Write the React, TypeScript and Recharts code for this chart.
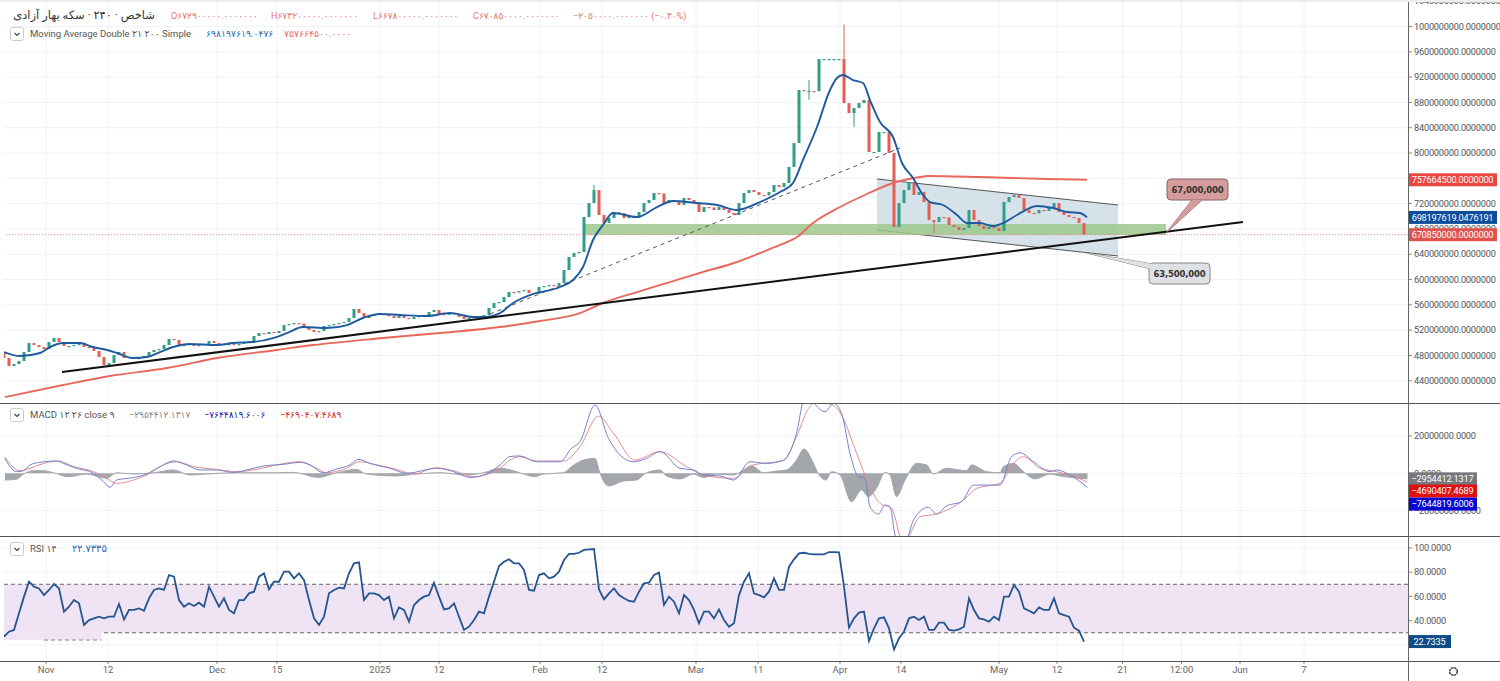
import React from 'react';
import {
  Area,
  Bar,
  CartesianGrid,
  ComposedChart,
  Line,
  ReferenceArea,
  ReferenceDot,
  ReferenceLine,
  XAxis,
  YAxis,
} from 'recharts';

const M = 1000000;

// closes per 240 min bar, millions
const closes = [
  475.9, 463.2, 466.4, 471.2, 485.4, 499.6, 496.4, 493.3, 490.1, 501.2,
  507.5, 501.2, 494.9, 494.9, 496.4, 498, 493.3, 491.7, 487, 477.5,
  464.8, 468, 480.6, 485.4, 475.9, 477.5, 475.9, 475.9, 479, 485.4,
  488.6, 490.1, 496.4, 506, 504.4, 494.9, 496.4, 498, 494.9, 496.4,
  498, 502.8, 499.6, 498, 496.4, 498, 496.4, 498, 501.2, 502.8,
  510.7, 515.4, 513.8, 517, 515.4, 518.6, 528, 529.7, 531.2, 530.4,
  523.3, 520.2, 517, 518.6, 526.5, 528, 529.7, 531.2, 532.8, 539.2,
  553.4, 547, 539.2, 542.3, 545.5, 546.4, 543.9, 542.3, 539.2, 542.3,
  539.2, 537.6, 540.7, 542.3, 543.2, 548.6, 551.8, 545.5, 543.9, 547,
  545.5, 540.7, 537.6, 539.2, 540.7, 542.3, 543.9, 555, 562.9, 564.4,
  572.3, 580.2, 579.4, 581.8, 583.4, 578.7, 577.9, 588.2, 589.7, 591.3,
  590.6, 594.5, 615, 635.6, 642, 643.5, 698.8, 720.9, 741.5, 702,
  689.3, 697.2, 706.7, 705.2, 697.2, 698.8, 698, 706.7, 720.9, 725.7,
  736.8, 736, 720.9, 725.7, 722.5, 717.8, 728.9, 725.7, 720.9, 706.7,
  714.6, 714, 709.9, 714.6, 709.9, 705.2, 702, 720.9, 736.8, 741.5,
  738.3, 733.6, 733, 738.3, 749.4, 746.2, 752.6, 777.9, 815.8, 899.6,
  898, 898, 897.6, 948.6, 948.6, 948.6, 948.6, 948.6, 879, 863.2,
  871.2, 879, 883.8, 801.6, 801.6, 833.2, 833.2, 800, 683, 720.9,
  741.5, 754, 733.6, 738.3, 722.5, 694, 690.9, 698.8, 698.2, 686.2,
  683, 678.3, 681.4, 709.9, 694, 684.6, 679.9, 683, 681.4, 676.7,
  722.5, 730.4, 733.6, 728.9, 709.9, 705.2, 704.6, 709.9, 708.3, 713,
  720.9, 706.7, 702, 698.8, 697.2, 689.3, 670.85,
];
const firstOpen = 485.4;
const wickBars = [118, 161, 168, 170, 186];
const wickLows = [720.9, 884, 879, 841, 673.5];
const wickHighs = [749.4, 915, 1003, 871.2, 694];

const ma21Bars = [
  0, 3.2, 7.2, 9.2, 11.8, 15.2, 17.8, 20.6, 22.6, 25.8, 28.6, 31.2, 33.8, 37.2, 42.6, 45.8, 49.8, 53.8, 56.6, 59.8,
  64.6, 68.6, 71.8, 75.2, 79.2, 84.6, 89.2, 93.8, 95.8, 99.2, 101.8, 105.2, 111.2, 113.8, 115.8, 117.8, 119.8, 121.8,
  126.6, 130.6, 133.8, 138.6, 142.6, 146.6, 151.2, 155.2, 157.8, 159.8, 162.6, 165.2, 166.6, 167.8, 169.8, 171.8,
  173.2, 175.2, 177.8, 179.6, 181.8, 183.8, 185.2, 187.8, 190.6, 192.6, 195.2, 197.8, 199.8, 202.6, 206.6, 209.8,
  212.6, 215.2, 216.6,
];
const ma21Values = [
  485.4, 479, 483.8, 493.3, 499.6, 499.6, 493.3, 488.6, 483.8, 475.9, 477.5, 485.4, 493.3, 498, 496.4, 499.6, 501.2, 507.5, 515.4, 524.9,
  523.3, 528, 539.2, 545.5, 543.9, 542.3, 547, 540.7, 540.7, 547, 562.9, 575.5, 588.2, 599.2, 619.8, 662.5, 686.2, 705.2,
  698.8, 714.6, 724.1, 720.9, 717.8, 709.9, 722.5, 738.3, 752.6, 789, 841.1, 899.6, 918.6, 923.3, 915.4, 910.7,
  883.8, 849, 825.3, 784.2, 760.5, 733.6, 722.5, 717.8, 702, 689.3, 689.3, 684.6, 689.3, 702, 716.2, 713,
  706.7, 705.2, 698.2,
];

const ma200Bars = [
  0.2, 11.8, 21.2, 32.6, 42.6, 54.6, 61.8, 75.8, 87.2, 99.2, 107.2, 115.2, 119.8, 126.6, 133.2, 139.8, 146.6, 151.2,
  155.2, 158.6, 161.8, 167.2, 172.6, 177.8, 183.2, 184.8, 195.2, 208.6, 216.6,
];
const ma200Values = [
  414.2, 433.2, 447.4, 460.1, 475.9, 488.6, 496.4, 507.5, 515.4, 524.9, 534.4, 547, 562.9, 580.2, 596, 611.9, 627.7, 641.9,
  654.6, 667.2, 689.3, 714.6, 735.2, 752.6, 762, 763.6, 762, 758.9, 757.66,
];

const macdBars = [
  0.2, 1.2, 2.5, 3.9, 5.2, 7.2, 10.5, 11.9, 14.5, 17.9, 19.9, 21.2, 22.5, 25.9, 28.5, 31.2, 33.9, 36.5, 39.2, 42.5,
  45.9, 49.9, 51.9, 55.9, 59.2, 61.2, 63.9, 66.5, 69.2, 70.9, 73.2, 77.2, 80.5, 86.5, 89.9, 93.2, 96.5, 99.2, 101.2, 103.2,
  106.5, 111.2, 113.5, 115.2, 118.2, 120.9, 125.9, 128.5, 131.2, 135.2, 137.9, 139.9, 143.2, 145.9, 149.2, 152.5, 155.9, 158.5, 160.2, 164.2,
  165.9, 167.5, 169.2, 170.9, 172.2, 173.2, 174.9, 176.2, 177.2, 178.2, 179.5, 180.9, 181.9, 184.9, 186.5, 188.5, 191.5, 193.9, 199.2, 201.5,
  203.2, 205.9, 209.2, 210.5, 213.2, 216.7,
];
const macdValues = [
  8, 3.6, 0.9, 1.4, 4.5, 5.9, 6.6, 5.3, 2.7, 0, -4.5, -7.5, -3.6, -2.3, -0.4, 3.6, 6.6, 4.5, 1.8, 1.8,
  0.5, 2.7, 3.9, 4.8, 5.9, 4.5, 0.3, 2.3, 4.5, 7.5, 5.3, 2.7, 0, 2.7, 0.9, -2.2, -0.4, 4.5, 9, 9.3,
  6.2, 6.2, 13.4, 17, 36.6, 18.7, 6.2, 8, 11.6, 2.7, 1.8, -0.9, -1.4, -3.6, 6.2, 5.3, 7.1, 21.4, 41, 33,
  37.5, 32.2, 10.7, -1.8, -2.7, -17.9, -21.8, -17, -17.9, -33.1, -41.1, -33.1, -25, -18.2, -21.8, -17.5, -15.2, -6.3, -6.3, 8.9,
  11, 6.2, 0.9, 1.8, -0.9, -7.64,
];

const signalBars = [
  0.2, 3.2, 5.2, 7.9, 10.9, 13.9, 17.9, 20.5, 22.5, 25.9, 29.2, 31.9, 34.5, 37.9, 42.5, 46.5, 50.5, 54.5, 59.2, 62.5,
  64.5, 68.5, 71.2, 74.5, 78.5, 81.9, 86.5, 90.5, 93.9, 97.2, 99.2, 101.2, 103.2, 106.5, 111.9, 115.2, 118.9, 121.9, 126.2, 131.2,
  136.5, 139.9, 145.9, 149.9, 155.9, 158.5, 160.9, 162.5, 165.2, 167.5, 169.9, 172.5, 175.2, 177.5, 179.9, 180.9, 183.2, 186.5, 191.9, 194.5,
  199.2, 201.9, 203.9, 207.2, 209.5, 212.5, 216.7,
];
const signalValues = [
  8.6, 1.4, 2.7, 5.3, 6.6, 3.6, 0.9, -2.7, -5.4, -3.6, 0, 4.5, 6.2, 3.6, 2.1, 0.9, 2.1, 4.5, 6.2, 2.7,
  0.3, 2.7, 6.2, 4.5, 2.1, -0.4, 3, 0.9, -1.8, 0, 2.7, 7.1, 8.9, 6.6, 6.6, 14.3, 30.7, 21.4, 7.1, 11.6,
  3.6, -0.9, -2.7, 4.5, 6.8, 19.6, 34.8, 37.9, 37.2, 31.3, 15.2, -2.7, -16.1, -18.8, -37.5, -34, -23.2, -21.8, -14.3, -8.1,
  -5.4, 5.4, 8.9, 2.7, 1.4, -0.4, -4.69,
];

const histBars = [
  0.2, 2.5, 3.9, 5.9, 7.9, 9.9, 12.9, 16.5, 20.5, 22.5, 25.9, 29.9, 33.9, 37.2, 40.5, 45.9, 54.5, 57.9, 62.9, 66.5,
  70.5, 72.5, 78.5, 82.5, 87.2, 92.5, 95.9, 99.2, 101.9, 103.9, 106.2, 107.9, 111.9, 113.5, 115.9, 118.2, 119.2, 120.9, 123.9, 126.5,
  128.5, 131.2, 132.5, 135.2, 137.9, 139.9, 142.5, 145.9, 147.9, 149.5, 151.9, 154.5, 156.5, 158.5, 160, 161.9, 162.9, 164.4, 165.5, 167.2,
  169.5, 171.5, 172.9, 174.5, 176.2, 177.2, 178.5, 180.2, 182.5, 184.5, 185.9, 188.5, 192.5, 193.5, 196.5, 199.2, 199.9, 201.9, 203.9, 206.2,
  209.2, 211.2, 216.7,
];
const histValues = [
  -3.6, -3.2, -0.4, 1.4, 1.4, 0.3, -1.8, -0.4, -2.7, 0.3, -0.4, 0.3, 1.8, -0.9, -0.4, 0.3, 0.3, 0.5, -2.2, 0.3,
  2.1, -0.4, -1.4, -0.4, 0.3, -0.9, 0.3, 2.7, 1.4, -0.4, -1.8, -0.4, 0.3, 3.6, 7.1, 8, 0, -6.8, -4.1, -3.6,
  0.3, 1.8, -1.4, -3, -0.4, -2.3, -0.4, -0.9, 1.8, 4.1, 0.3, 1.2, 1.8, 7.1, 13, 5.3, -0.4, -3.6, 0.9, -0.9,
  -15.2, -8.9, -12.5, -8, 0.5, -0.9, -12.5, -3.6, 5.3, 4.5, -0.4, 2.7, 1.4, 4.5, 0.9, 0.3, 3.6, 5.3, 0.9, -3,
  -0.4, -1.4, -2.95,
];

const rsiValues = [
  26.8, 30.9, 32.3, 46, 59.8, 72.1, 68, 66.6, 61.1, 65.3,
  70.2, 66.6, 47.4, 51.5, 57, 54.3, 36.4, 40.5, 41.9, 43.3,
  41.9, 43.3, 43.3, 53.7, 41, 48.8, 48.8, 50.1, 48.2, 58.4,
  65.3, 66.6, 65.3, 77.6, 76.3, 57, 51.5, 54.3, 52.1, 54.8,
  51.5, 68, 59.8, 51.5, 58.4, 48.8, 46, 57, 57, 62.5,
  63.9, 76.3, 79, 65.8, 72.1, 72.1, 80.4, 80.4, 74.9, 79,
  73.5, 57, 41.9, 36.4, 43.3, 62.5, 65.3, 67.2, 66.6, 79,
  87.3, 88.1, 57, 62.5, 62.5, 61.1, 57, 59.8, 41.9, 50.9,
  48.8, 39.1, 52.9, 57, 59.8, 61.1, 71.3, 59.8, 49.3, 50.1,
  54.3, 43.3, 32.3, 35, 40.5, 47.4, 46, 59.8, 72.1, 85,
  88.6, 90.6, 87.3, 87.3, 81.8, 65.3, 64.7, 77.6, 79, 74.9,
  76.3, 80.4, 90, 95, 95, 96, 98.3, 98.8, 99.1, 65.8,
  57.6, 62.5, 66.6, 61.1, 58.4, 56.2, 55.6, 63.9, 70.8, 71.3,
  77.6, 79.6, 52.9, 59.8, 55.6, 46, 61.1, 57, 48.8, 37.8,
  47.4, 47.4, 41.9, 49.3, 40.5, 35, 37.8, 61.1, 72.1, 79,
  62.5, 61.1, 59.2, 63.9, 74.9, 65.3, 65.3, 84.5, 90.6, 95.5,
  96, 95, 94.7, 94.7, 94.7, 96.6, 96.6, 96.3, 68, 34.2,
  41.9, 46.6, 47.4, 23.2, 33.6, 41.9, 42.7, 33.6, 16.3, 25.4,
  30.9, 41.9, 43.3, 40.5, 43.3, 32.3, 32.3, 38.3, 38.3, 32.3,
  31.7, 32.8, 35, 58.4, 48.8, 41.9, 41, 39.1, 43.3, 40.5,
  59.8, 59.8, 69.4, 63.9, 50.1, 48.2, 46, 50.9, 48.8, 48.8,
  58.4, 46, 44.6, 43.3, 34.2, 31.7, 22.73,
];

const timeTicks = [8.4, 20.8, 42.6, 54.6, 75.2, 87, 107.2, 119.6, 138.4, 150.8, 167.2, 179.4, 199, 210.6, 223.7, 235.5, 247.2, 260];
const timeLabels = ['Nov', '12', 'Dec', '15', '2025', '12', 'Feb', '12', 'Mar', '11', 'Apr', '14', 'May', '12', '21', '12:00', 'Jun', '7'];
const priceGrid = [440, 480, 520, 560, 600, 640, 680, 720, 760, 800, 840, 880, 920, 960, 1000, 1040].map((v) => v * M);
// 760 sits fully behind the last MA200 value box, so it has no label
const priceTicks = priceGrid.filter((v) => v !== 760 * M);
const macdTicks = [-20 * M, 0, 20 * M];
const rsiTicks = [20, 40, 60, 80, 100];

const priceBoxValues = [757664500, 698197619.0476191, 670850000];
const priceBoxTexts = ['757664500.0000000', '698197619.0476191', '670850000.0000000'];
const macdBoxValues = [-2954412.1317, -4690407.4689, -7644819.6006];
const macdBoxTexts = ['−2954412.1317', '−4690407.4689', '−7644819.6006'];
const rsiBoxValues = [22.7335];
const rsiBoxTexts = ['22.7335'];

const BAR_DOMAIN: [number, number] = [0, 280.8];
const PRICE_DOMAIN: [number, number] = [404.8 * M, 1041.9 * M];
const MACD_DOMAIN: [number, number] = [-33.6 * M, 37.15 * M];
const RSI_DOMAIN: [number, number] = [6.7, 109];

const UP = '#2f9d88';
const DOWN = '#e35f55';
const GRID = '#f0f2f7';
const BAND = '#e9d9ef';
const FONT = "Roboto, 'DejaVu Sans', sans-serif";

const priceRows = closes.map((c, i) => {
  const open = i === 0 ? firstOpen : closes[i - 1];
  const w = wickBars.indexOf(i);
  return {
    bar: i,
    body: [Math.min(open, c) * M, Math.max(open, c) * M],
    wick: w >= 0 ? [wickLows[w] * M, wickHighs[w] * M] : undefined,
    up: c >= open,
  };
});
const rsiRows = rsiValues.map((rsi, i) => ({ bar: i, rsi }));
const zip = (bars: number[], vals: number[], k = M) => bars.map((bar, i) => ({ bar, value: vals[i] * k }));
const channelRows = [
  { bar: 174.6, range: [678.3 * M, 758.9 * M] },
  { bar: 222.8, range: [637.2 * M, 717.8 * M] },
];

const tickStyle = { fontSize: 9.2, fill: '#555', fontFamily: FONT, letterSpacing: -0.2 };

// candle parts keep their own width, recharts splits the band between the two bars otherwise
const candlePart = (w: number) => (p: any) => {
  const row = p.payload;
  if (w === 1 && !row.wick) return null;
  return (
    <rect
      x={p.x + p.width / 2 - w / 2}
      y={p.y}
      width={w}
      height={Math.max(p.height, 1.2)}
      fill={row.up ? UP : DOWN}
    />
  );
};

const Callout = ({ cx, cy, text, fill, stroke, bx, by, tail }: any) => (
  <g transform={`translate(${cx},${cy})`}>
    <path d={tail} fill={fill} stroke={stroke} strokeWidth={1} />
    <rect x={bx} y={by} width={61} height={21} rx={4} fill={fill} stroke={stroke} strokeWidth={1} />
    <path d={tail} fill={fill} stroke="none" />
    <text x={bx + 30.5} y={by + 13.5} textAnchor="middle" fill="#333" style={{ fontSize: 8.5, fontWeight: 700, fontFamily: "'DejaVu Sans', sans-serif", letterSpacing: -0.2 }}>
      {text}
    </text>
  </g>
);

// value boxes go in a chart of their own on top, they have to cover the axis ticks
const ScaleBoxes = ({ height, bottom = 0, domain, values, texts, colors, nudges, boxWidth }: any) => (
  <ComposedChart width={1500} height={height} margin={{ top: 0, right: 92, left: 4, bottom }}>
    <XAxis dataKey="bar" type="number" domain={BAR_DOMAIN} hide allowDataOverflow />
    <YAxis domain={domain} hide allowDataOverflow />
    {values.map((v: number, i: number) => (
      <ReferenceDot
        key={texts[i]}
        x={BAR_DOMAIN[1]}
        y={v}
        ifOverflow="visible"
        shape={(p: any) => (
          <g transform={`translate(1408,${p.cy + (nudges ? nudges[i] : 0)})`}>
            <rect x={0} y={-6.5} width={boxWidth} height={13} fill={colors[i]} />
            <text x={boxWidth / 2} y={3.2} textAnchor="middle" fill="#fff" style={{ fontSize: 9.2, fontFamily: FONT, letterSpacing: -0.2 }}>
              {texts[i]}
            </text>
          </g>
        )}
      />
    ))}
  </ComposedChart>
);

const Chevron = ({ top }: { top: number }) => (
  <svg style={{ position: 'absolute', left: 10, top }} width={14} height={14}>
    <rect x={0.5} y={0.5} width={13} height={13} rx={2} fill="#fff" stroke="#ccc" />
    <path d="M4.5 6 L7 8.5 L9.5 6" fill="none" stroke="#444" strokeWidth={1.2} />
  </svg>
);

const Txt = ({ x, y, color = '#555', size = 9.1, children }: any) => (
  <span
    dir="ltr"
    style={{ position: 'absolute', left: x, top: y, color, fontSize: size, lineHeight: '12px', whiteSpace: 'nowrap', fontFamily: FONT, unicodeBidi: 'isolate' }}
  >
    {children}
  </span>
);

const Legends = () => (
  <>
    <span dir="rtl" style={{ position: 'absolute', left: 5, top: 9, width: 150, textAlign: 'right', color: '#333', fontSize: 11.5, lineHeight: '13px', whiteSpace: 'nowrap', fontFamily: FONT }}>
      شاخص · ۲۴۰ · سکه بهار آزادی
    </span>
    <Txt x={171} y={10} color="#e5776f">O۶۷۲۹۰۰۰۰۰.۰۰۰۰۰۰۰</Txt>
    <Txt x={271} y={10} color="#e5776f">H۶۷۳۲۰۰۰۰۰.۰۰۰۰۰۰۰</Txt>
    <Txt x={373} y={10} color="#e5776f">L۶۶۷۸۰۰۰۰۰.۰۰۰۰۰۰۰</Txt>
    <Txt x={473} y={10} color="#e5776f">C۶۷۰۸۵۰۰۰۰.۰۰۰۰۰۰۰</Txt>
    <Txt x={573} y={10} color="#e5776f">−۲۰۵۰۰۰۰.۰۰۰۰۰۰۰ (−۰.۳۰%)</Txt>
    <Chevron top={27} />
    <Txt x={30} y={28} size={9.5}>Moving Average Double ۲۱ ۲۰۰ Simple</Txt>
    <Txt x={206} y={28} color="#2e6cb0" size={9.3}>۶۹۸۱۹۷۶۱۹.۰۴۷۶</Txt>
    <Txt x={284} y={28} color="#e5695f" size={9.3}>۷۵۷۶۶۴۵۰۰.۰۰۰۰</Txt>
    <Chevron top={408} />
    <Txt x={30} y={409} size={9.5}>MACD ۱۲ ۲۶ close ۹</Txt>
    <Txt x={129} y={409} color="#888">−۲۹۵۴۴۱۲.۱۳۱۷</Txt>
    <Txt x={204} y={409} color="#2222aa">−۷۶۴۴۸۱۹.۶۰۰۶</Txt>
    <Txt x={280} y={409} color="#d22">−۴۶۹۰۴۰۷.۴۶۸۹</Txt>
    <Chevron top={542} />
    <Txt x={30} y={543} size={9.5}>RSI ۱۴</Txt>
    <Txt x={72} y={543} color="#2e6cb0" size={10}>۲۲.۷۳۳۵</Txt>
  </>
);

const PricePane = () => (
  <ComposedChart width={1500} height={403} data={priceRows} margin={{ top: 0, right: 0, left: 4, bottom: 0 }}>
    <XAxis dataKey="bar" type="number" domain={BAR_DOMAIN} hide allowDataOverflow />
    <XAxis xAxisId="wick" dataKey="bar" type="number" domain={BAR_DOMAIN} hide allowDataOverflow />
    <YAxis
      orientation="right"
      width={92}
      domain={PRICE_DOMAIN}
      ticks={priceTicks}
      interval={0}
      allowDataOverflow
      axisLine={false}
      tickSize={4}
      tickLine={{ stroke: '#888' }}
      tick={tickStyle}
      tickFormatter={(v: number) => v.toFixed(7)}
    />
    <CartesianGrid stroke={GRID} verticalValues={timeTicks} horizontalValues={priceGrid} />
    <Area data={channelRows} dataKey="range" type="linear" fill="#cfdde6" fillOpacity={0.85} stroke="#555" strokeWidth={1} isAnimationActive={false} dot={false} activeDot={false} />
    <ReferenceArea x1={115.8} x2={232.4} y1={670.3 * M} y2={687.8 * M} fill="#9cc88c" fillOpacity={0.85} stroke="none" />
    <ReferenceLine y={670.85 * M} stroke="#e88" strokeDasharray="1 2" />
    <ReferenceLine segment={[{ x: 97.2, y: 545.5 * M }, { x: 179.2, y: 807.9 * M }]} stroke="#555" strokeDasharray="4 4" />
    <Bar xAxisId="wick" dataKey="wick" shape={candlePart(1)} isAnimationActive={false} />
    <Bar dataKey="body" shape={candlePart(3)} isAnimationActive={false} />
    <Line data={zip(ma200Bars, ma200Values)} dataKey="value" type="monotone" stroke="#e8695c" strokeWidth={1.9} dot={false} activeDot={false} isAnimationActive={false} />
    <Line data={zip(ma21Bars, ma21Values)} dataKey="value" type="monotone" stroke="#1f5a9e" strokeWidth={1.9} dot={false} activeDot={false} isAnimationActive={false} />
    <ReferenceLine segment={[{ x: 11.6, y: 453.8 * M }, { x: 247.8, y: 690.9 * M }]} stroke="#111" strokeWidth={2} />
    <ReferenceDot
      x={232.6}
      y={675.1 * M}
      ifOverflow="visible"
      shape={(p: any) => (
        <Callout {...p} text="67,000,000" fill="#d59c9c" stroke="#8b6464" bx={0} by={-53} tail="M0 0 L25 -32 L35 -32 Z" />
      )}
    />
    <ReferenceDot
      x={216.6}
      y={641.9 * M}
      ifOverflow="visible"
      shape={(p: any) => (
        <Callout {...p} text="63,500,000" fill="#dfe0e3" stroke="#888" bx={62} by={10} tail="M0 0 L72 12 L72 18 Z" />
      )}
    />
  </ComposedChart>
);

const MacdPane = () => (
  <ComposedChart width={1500} height={132} margin={{ top: 0, right: 0, left: 4, bottom: 0 }}>
    <XAxis dataKey="bar" type="number" domain={BAR_DOMAIN} hide allowDataOverflow />
    <YAxis
      orientation="right"
      width={92}
      domain={MACD_DOMAIN}
      ticks={macdTicks}
      interval={0}
      allowDataOverflow
      axisLine={false}
      tickSize={4}
      tickLine={{ stroke: '#888' }}
      tick={tickStyle}
      tickFormatter={(v: number) => v.toFixed(4).replace('-', '−')}
    />
    <CartesianGrid stroke={GRID} verticalValues={timeTicks} horizontalValues={macdTicks} />
    <Area data={zip(histBars, histValues)} dataKey="value" type="monotone" fill="#a3a6ab" fillOpacity={1} stroke="#a3a6ab" strokeWidth={1} dot={false} activeDot={false} isAnimationActive={false} />
    <Line data={zip(signalBars, signalValues)} dataKey="value" type="monotone" stroke="#e58b98" strokeWidth={1} dot={false} activeDot={false} isAnimationActive={false} />
    <Line data={zip(macdBars, macdValues)} dataKey="value" type="monotone" stroke="#7683cc" strokeWidth={1} dot={false} activeDot={false} isAnimationActive={false} />
  </ComposedChart>
);

const RsiPane = () => (
  <ComposedChart width={1500} height={144} data={rsiRows} margin={{ top: 0, right: 0, left: 4, bottom: 0 }}>
    <XAxis
      dataKey="bar"
      type="number"
      domain={BAR_DOMAIN}
      ticks={timeTicks}
      interval={0}
      allowDataOverflow
      height={20}
      axisLine={false}
      tickSize={3}
      tickLine={{ stroke: '#888' }}
      tick={{ fontSize: 9.5, fill: '#666', fontFamily: FONT }}
      tickFormatter={(v: number) => timeLabels[timeTicks.indexOf(v)]}
    />
    <YAxis
      orientation="right"
      width={92}
      domain={RSI_DOMAIN}
      ticks={rsiTicks}
      interval={0}
      allowDataOverflow
      axisLine={false}
      tickSize={4}
      tickLine={{ stroke: '#888' }}
      tick={tickStyle}
      tickFormatter={(v: number) => v.toFixed(4)}
    />
    <CartesianGrid stroke={GRID} verticalValues={timeTicks} horizontalValues={rsiTicks} />
    <ReferenceArea x1={0} x2={280.8} y1={30} y2={70} fill={BAND} fillOpacity={0.7} stroke="none" />
    {/* the lower left corner of the band was smudged in the source image */}
    <ReferenceArea x1={0} x2={19.5} y1={24} y2={30} fill={BAND} fillOpacity={0.7} stroke="none" />
    <ReferenceLine y={70} stroke="#666" strokeDasharray="4 3" />
    <ReferenceLine segment={[{ x: 20, y: 30 }, { x: 280.8, y: 30 }]} stroke="#666" strokeDasharray="4 3" />
    <ReferenceLine segment={[{ x: 8, y: 24 }, { x: 19.5, y: 24 }]} stroke="#888" strokeDasharray="4 3" />
    <Line dataKey="rsi" type="linear" stroke="#24558f" strokeWidth={1.8} dot={false} activeDot={false} isAnimationActive={false} />
  </ComposedChart>
);

const Rule = ({ top }: { top: number }) => (
  <div style={{ position: 'absolute', left: 0, top, width: 1500, height: 1, background: '#555' }} />
);

const Layer = ({ top, children }: any) => <div style={{ position: 'absolute', left: 0, top }}>{children}</div>;

export default function App() {
  return (
    <div style={{ position: 'relative', width: 1500, height: 681, background: '#fff', overflow: 'hidden' }}>
      <style>{'body{margin:0}'}</style>
      <Layer top={0}><PricePane /></Layer>
      <Layer top={404}><MacdPane /></Layer>
      <Layer top={537}><RsiPane /></Layer>
      <Layer top={0}>
        <ScaleBoxes height={403} domain={PRICE_DOMAIN} values={priceBoxValues} texts={priceBoxTexts} colors={['#e8473f', '#0f4c9a', '#e0524d']} boxWidth={89} />
      </Layer>
      <Layer top={404}>
        <ScaleBoxes height={132} domain={MACD_DOMAIN} values={macdBoxValues} texts={macdBoxTexts} colors={['#77787c', '#e01010', '#0808d0']} nudges={[0, 9, 16.5]} boxWidth={69} />
      </Layer>
      <Layer top={537}>
        <ScaleBoxes height={144} bottom={20} domain={RSI_DOMAIN} values={rsiBoxValues} texts={rsiBoxTexts} colors={['#0f4c86']} boxWidth={43} />
      </Layer>
      <Rule top={403} />
      <Rule top={536} />
      <Rule top={661} />
      <div style={{ position: 'absolute', left: 1408, top: 0, width: 1, height: 681, background: '#666' }} />
      <div style={{ position: 'absolute', left: 0, top: 0, width: 1500, height: 2, background: '#eee' }} />
      <Legends />
      <svg style={{ position: 'absolute', left: 1447, top: 665 }} width={13} height={13}>
        <circle cx={6.5} cy={6.5} r={3.8} fill="none" stroke="#444" strokeWidth={1.6} strokeDasharray="2.4 0.6" />
      </svg>
    </div>
  );
}
